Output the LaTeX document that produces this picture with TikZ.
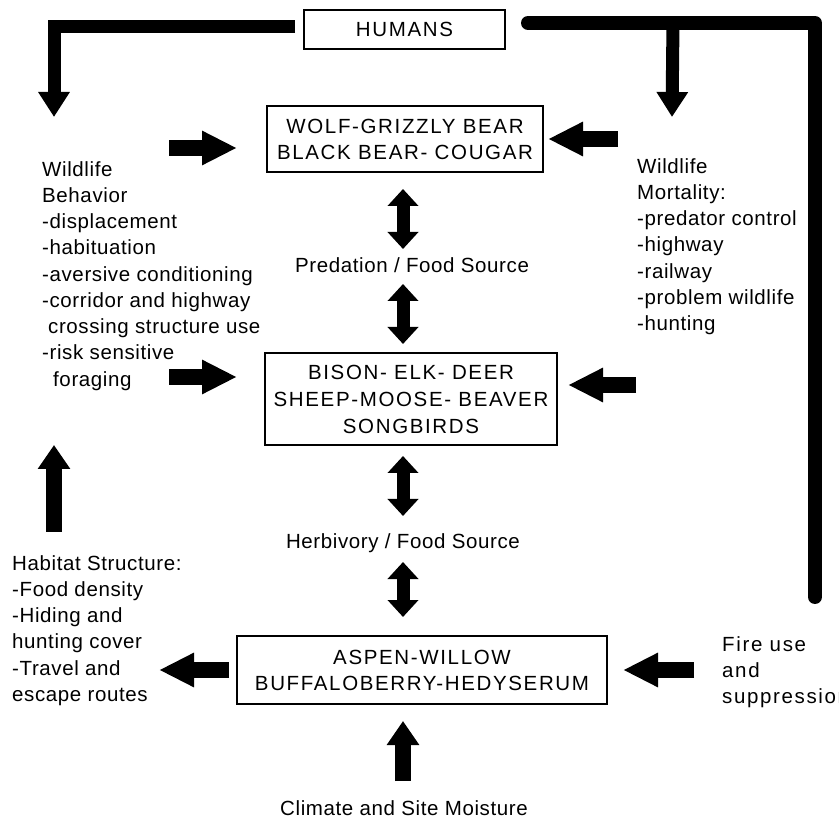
\documentclass[tikz,border=0pt]{standalone}
\usepackage{fontspec}
\setmainfont{Liberation Sans}[LetterSpace=3]
\newfontfamily\boxfont{Liberation Sans}[LetterSpace=8]
\newfontfamily\widefont{Liberation Sans}[LetterSpace=8]
\usetikzlibrary{arrows.meta,calc}
\begin{document}
\begin{tikzpicture}[x=1pt,y=-1pt,
  every node/.style={font=\fontsize{20.5}{26.25}\selectfont},
  box/.style={draw, line width=2pt, align=center, inner sep=0pt, font=\boxfont\fontsize{20.5}{26}\selectfont},
  lbl/.style={inner sep=0pt, align=center},
  txt/.style={inner sep=0pt, align=left, anchor=north west},
  blk/.style={line width=16pt, -{Triangle[length=35pt,width=32pt]}},
  blkv/.style={line width=16pt, -{Triangle[length=24pt,width=31pt]}},
  dbl/.style={line width=13pt, {Triangle[length=17pt,width=30pt]}-{Triangle[length=17pt,width=30pt]}},
  lline/.style={line width=13pt, -{Triangle[length=25pt,width=30pt]}},
  rline/.style={line width=14pt, line cap=round, line join=round}]
\fill[white] (0,0) rectangle (839,818);
\useasboundingbox (0,0) rectangle (839,818);

% boxes
\node[box, minimum width=201pt, minimum height=39pt] (humans) at (404.5,29.5) {HUMANS};
\node[box, minimum width=276pt, minimum height=66pt] (wolf) at (405,139) {WOLF-GRIZZLY BEAR\\BLACK BEAR- COUGAR};
\node[box, minimum width=292pt, minimum height=92pt, font=\boxfont\fontsize{20.5}{27}\selectfont] (bison) at (411,399) {BISON- ELK- DEER\\SHEEP-MOOSE- BEAVER\\SONGBIRDS};
\node[box, minimum width=370pt, minimum height=68pt] (aspen) at (422,670) {ASPEN-WILLOW\\BUFFALOBERRY-HEDYSERUM};

% labels
\node[lbl] (pred) at (412,265) {Predation / Food Source};
\node[lbl] (herb) at (403,543) {Herbivory / Food Source};
\node[lbl] (climate) at (404,808) {Climate and Site Moisture};

\node[txt] (behav) at (42,161) {Wildlife\\Behavior\\-displacement\\-habituation\\-aversive conditioning\\-corridor and highway\\\hspace*{6pt}crossing structure use\\-risk sensitive\\\hspace*{11pt}foraging};
\node[txt] (mort) at (637,158) {Wildlife\\Mortality:\\-predator control\\-highway\\-railway\\-problem wildlife\\-hunting};
\node[txt] (habitat) at (12,555) {Habitat Structure:\\-Food density\\-Hiding and\\hunting cover\\-Travel and\\escape routes};
\node[txt, font=\widefont\fontsize{20.5}{26.25}\selectfont] (fire) at (722,636) {Fire use\\and\\suppression};

% coordinates
\coordinate (lstart) at ($(humans.west)+(-8,-3)$);
\coordinate (ltip) at ($(behav.north west)+(12,-44)$);
\coordinate (rstart) at ($(humans.east)+(22,-6.5)$);
\coordinate (rcorner) at (815,23);
\coordinate (rend) at (815,597);
\coordinate (bstart) at ($(humans.east)+(167,-6.5)$);
\coordinate (btip) at ($(mort.north west)+(35,-41)$);

% humans connectors
\draw[lline] (lstart) -| (ltip);
\draw[rline] (rstart) -- (rcorner) -- (rend);
\draw[lline] (bstart) -- (btip);

% vertical double arrows
\draw[dbl] ($(wolf.south)+(-2,16)$) -- ($(wolf.south)+(-2,76)$);
\draw[dbl] ($(bison.north)+(-8,-68)$) -- ($(bison.north)+(-8,-8)$);
\draw[dbl] ($(bison.south)+(-8,10)$) -- ($(bison.south)+(-8,70)$);
\draw[dbl] ($(aspen.north)+(-19,-73)$) -- ($(aspen.north)+(-19,-18)$);

% block arrows
\draw[blkv] ($(aspen.south)+(-19,76)$) -- ($(aspen.south)+(-19,16)$);
\draw[blk] ($(wolf.west)+(-97,9)$) -- ($(wolf.west)+(-29,9)$);
\draw[blk] ($(wolf.east)+(74,0)$) -- ($(wolf.east)+(4,0)$);
\draw[blk] ($(bison.west)+(-95,-22)$) -- ($(bison.west)+(-27,-22)$);
\draw[blk] ($(bison.east)+(78,-14)$) -- ($(bison.east)+(10,-14)$);
\draw[blk] ($(aspen.west)+(-7,0)$) -- ($(aspen.west)+(-77,0)$);
\draw[blk] ($(aspen.east)+(86,0)$) -- ($(aspen.east)+(15,0)$);
\draw[blkv] ($(habitat.north west)+(42,-23)$) -- ($(habitat.north west)+(42,-110)$);
\end{tikzpicture}
\end{document}
